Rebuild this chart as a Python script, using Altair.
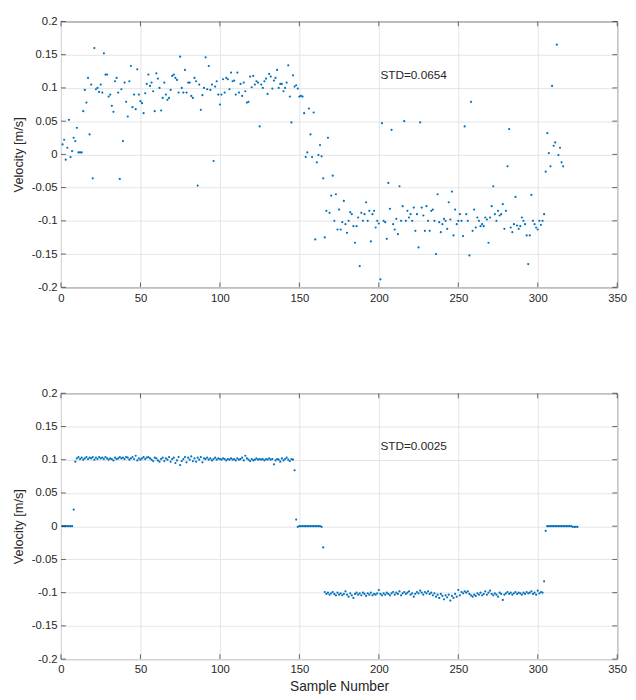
import altair as alt
import pandas as pd

# ---------------- data ----------------
x_ticks = [0, 50, 100, 150, 200, 250, 300, 350]
y_ticks = [-0.2, -0.15, -0.1, -0.05, 0, 0.05, 0.1, 0.15, 0.2]

# Top panel: raw velocity, samples 1..N
raw_start = [0.015, 0.022, -0.008, 0.01, 0.052, -0.004, 0.005, 0.025, 0.02, 0.04,
             0.003, 0.003, 0.003, 0.065, 0.097, 0.078, 0.115, 0.03, 0.105, -0.036, 0.16]
raw_rise = [0.098, 0.1, 0.094, 0.105, 0.093, 0.152, 0.12, 0.12, 0.087, 0.09,
            0.073, 0.064, 0.11, 0.115, 0.093, -0.037, 0.098, 0.02, 0.108, 0.079,
            0.057, 0.11, 0.133, 0.071, 0.09, 0.068, 0.128, 0.09, 0.08, 0.077]
raw_mid = [0.062, 0.092, 0.106, 0.12, 0.103, 0.108, 0.095, 0.065, 0.122, 0.114,
           0.1, 0.066, 0.085, 0.108, 0.09, 0.082, 0.085, 0.097, 0.118, 0.12,
           0.115, 0.112, 0.093, 0.147, 0.1, 0.093, 0.127, 0.093, 0.108, 0.108,
           0.088, 0.085, 0.115, 0.11, -0.047, 0.105, 0.067, 0.089, 0.1, 0.146,
           0.098, 0.133, 0.097, 0.105, -0.01, 0.102, 0.11, 0.09]
raw_late = [0.075, 0.09, 0.113, 0.093, 0.115, 0.113, 0.098, 0.123, 0.11, 0.111,
            0.09, 0.123, 0.093, 0.106, 0.088, 0.108, 0.095, 0.078, 0.079, 0.117,
            0.101, 0.118, 0.105, 0.11, 0.108, 0.042, 0.105, 0.1, 0.11, 0.114,
            0.091, 0.121, 0.117, 0.099, 0.111, 0.115, 0.127, 0.1, 0.106, 0.106,
            0.095, 0.1, 0.108, 0.134, 0.087, 0.048, 0.119, 0.102, 0.104, 0.099]
raw_drop = [0.087, 0.088, 0.087, 0.062, -0.004, 0.003, 0.069, 0.03, -0.004, 0.063,
            -0.128, -0.012, -0.001, 0.014, -0.003, -0.036, -0.125, -0.085, 0.025, -0.088,
            -0.062, -0.032, -0.1, -0.06, -0.113, -0.083]
raw_neg = [-0.113, -0.102, -0.07, -0.105, -0.118, -0.1, -0.087, -0.09, -0.108, -0.133,
           -0.108, -0.095, -0.168, -0.088, -0.1, -0.09, -0.072, -0.1, -0.085, -0.131,
           -0.09, -0.085, -0.11, -0.1, -0.104,
           -0.188, 0.047, -0.1, -0.102, -0.127, -0.043, -0.082, 0.037, -0.105, -0.113,
           -0.097, -0.12, -0.048, -0.1, -0.078, 0.05, -0.1, -0.085, -0.095, -0.09,
           -0.1, -0.08, -0.115, -0.09, -0.14,
           0.048, -0.08, -0.092, -0.115, -0.078, -0.1, -0.115, -0.085, -0.083, -0.1,
           -0.15, -0.06, -0.102, -0.117, -0.105, -0.097, -0.1, -0.112, -0.072, -0.098,
           -0.056, -0.122, -0.083, -0.105, -0.1,
           -0.09, -0.1, -0.123, 0.042, -0.09, -0.1, -0.152, 0.079, -0.115, -0.083,
           -0.11, -0.095, -0.1, -0.108, -0.105, -0.108, -0.095, -0.098, -0.133, -0.095,
           -0.078, -0.048, -0.09, -0.1, -0.085,
           -0.092, -0.09, -0.075, -0.112, -0.085, -0.018, 0.038, -0.11, -0.117, -0.105,
           -0.064, -0.107, -0.112, -0.108, -0.095, -0.1, -0.105, -0.122, -0.165, -0.122,
           -0.061, -0.1, -0.105, -0.11, -0.113, -0.1, -0.106]
raw_end = [-0.1, -0.09, -0.026, 0.032, 0.002, -0.018, 0.103, 0.013, 0.018, 0.165,
           -0.001, 0.01, -0.012, -0.018]

# Bottom panel: filtered velocity
flt_start = [0.0, 0.0, 0.0, 0.0, 0.0, 0.0, 0.0, 0.025]
flt_pos = [0.097, 0.102, 0.104, 0.101, 0.103, 0.100, 0.102, 0.104, 0.101, 0.103,
           0.102, 0.104, 0.100, 0.103, 0.101, 0.104, 0.102, 0.103, 0.101, 0.104,
           0.102, 0.100,
           0.102, 0.101, 0.099, 0.103, 0.101, 0.102, 0.104, 0.102, 0.103, 0.101,
           0.104, 0.103, 0.100, 0.102, 0.104, 0.101, 0.106, 0.099, 0.102, 0.100,
           0.102, 0.104, 0.101, 0.103, 0.104, 0.102, 0.100, 0.098, 0.103, 0.102,
           0.099, 0.097, 0.101, 0.103, 0.098, 0.102, 0.100, 0.104, 0.097, 0.101,
           0.103, 0.095, 0.099, 0.104, 0.092,
           0.098, 0.101, 0.104, 0.096, 0.103, 0.100, 0.105, 0.098, 0.102, 0.097,
           0.103, 0.100, 0.104, 0.096, 0.102, 0.101, 0.103, 0.100, 0.102, 0.099,
           0.101, 0.103, 0.100, 0.102, 0.101,
           0.100, 0.102, 0.101, 0.099, 0.101, 0.100, 0.102, 0.100, 0.101, 0.099,
           0.102, 0.100, 0.101, 0.103, 0.099, 0.106, 0.102, 0.100, 0.098, 0.101,
           0.099, 0.100, 0.102, 0.100, 0.101,
           0.100, 0.101, 0.099, 0.101, 0.100, 0.102, 0.100, 0.101, 0.093, 0.099,
           0.101, 0.100, 0.097, 0.102, 0.099, 0.101, 0.103, 0.100, 0.098, 0.101, 0.100]
flt_stop1 = [0.084, 0.010, -0.001, 0.0, 0.0, 0.0, 0.0, 0.0, 0.0, 0.0, 0.0, 0.0,
             0.0, 0.0, 0.0, 0.0, 0.0, -0.001, -0.032]
flt_neg = [-0.099, -0.102, -0.100, -0.103, -0.101, -0.099, -0.102, -0.104, -0.100, -0.103,
           -0.101, -0.104, -0.102, -0.098, -0.103, -0.106, -0.101, -0.104, -0.108, -0.102,
           -0.100, -0.103, -0.101, -0.104, -0.100,
           -0.102, -0.105, -0.101, -0.103, -0.100, -0.104, -0.102, -0.103, -0.101, -0.096,
           -0.102, -0.104, -0.101, -0.103, -0.100, -0.102, -0.104, -0.101, -0.099, -0.103,
           -0.100, -0.102, -0.098, -0.104, -0.101,
           -0.099, -0.102, -0.100, -0.098, -0.103, -0.101, -0.106, -0.102, -0.099, -0.101,
           -0.097, -0.100, -0.103, -0.099, -0.101, -0.098, -0.102, -0.100, -0.104, -0.101,
           -0.106, -0.103, -0.108, -0.102, -0.105,
           -0.110, -0.104, -0.107, -0.103, -0.112, -0.105, -0.108, -0.102, -0.106, -0.096,
           -0.104, -0.099, -0.101, -0.098, -0.100, -0.098, -0.102, -0.104, -0.106, -0.103,
           -0.105, -0.101, -0.103, -0.100, -0.104,
           -0.102, -0.098, -0.103, -0.100, -0.097, -0.102, -0.104, -0.101, -0.103, -0.106,
           -0.100, -0.102, -0.111, -0.103, -0.101, -0.099, -0.102, -0.100, -0.103, -0.101,
           -0.099, -0.102, -0.100, -0.101, -0.103,
           -0.100, -0.102, -0.099, -0.101, -0.100, -0.098, -0.102, -0.100, -0.103, -0.097,
           -0.101, -0.099, -0.100]
flt_end = [-0.083, -0.007, 0.0, 0.0, 0.0, 0.0, 0.0, 0.0, 0.0, 0.0, 0.0, 0.0,
           0.0, 0.0, 0.0, 0.0, 0.0, 0.0, -0.001, -0.001, -0.001, -0.001]

raw_values = raw_start + raw_rise + raw_mid + raw_late + raw_drop + raw_neg + raw_end
flt_values = flt_start + flt_pos + flt_stop1 + flt_neg + flt_end

std_labels = ["STD=0.0654", "STD=0.0025"]
std_pos = (201, 0.12)  # annotation anchor in data units

# ---------------- styling ----------------
W, H = 567, 271
BLUE = "#0072BD"
DARK = "#262626"
FONT = "Liberation Sans"
TL = 5  # inner tick length


def panel(values, label, x_title):
    df = pd.DataFrame({"x": list(range(1, len(values) + 1)), "y": values})
    xs = alt.Scale(domain=[0, 350], nice=False, zero=False)
    ys = alt.Scale(domain=[-0.2, 0.2], nice=False, zero=False)

    xaxis_kw = dict(values=x_ticks, grid=True, ticks=False, domain=False,
                    labelPadding=5, labelFontSize=11.5, labelColor=DARK,
                    labelFont=FONT, gridColor="#e3e3e3", labelFlush=False)
    if x_title:
        xaxis_kw.update(title=x_title, titleFontSize=14, titleFont=FONT,
                        titleFontWeight="normal", titleColor=DARK, titlePadding=5)
    else:
        xaxis_kw.update(title="")
    xaxis = alt.Axis(**xaxis_kw)

    yaxis = alt.Axis(values=y_ticks, grid=True, ticks=False, domain=False,
                     labelPadding=4, labelFontSize=11.5, labelColor=DARK, labelFont=FONT,
                     gridColor="#e3e3e3", labelExpr="'' + datum.value",
                     title="Velocity [m/s]", titleFontSize=13, titleFont=FONT,
                     titleFontWeight="normal", titleColor=DARK, titlePadding=6,
                     labelFlush=False)

    pts = alt.Chart(df).mark_point(filled=True, size=5, color=BLUE, opacity=1).encode(
        x=alt.X("x:Q", scale=xs, axis=xaxis),
        y=alt.Y("y:Q", scale=ys, axis=yaxis),
    )

    ytdf = pd.DataFrame({"v": y_ticks})
    xtdf = pd.DataFrame({"v": x_ticks})
    tick_style = dict(color=DARK, size=TL, thickness=1)
    left = alt.Chart(ytdf).mark_tick(orient="horizontal", **tick_style).encode(
        y=alt.Y("v:Q", scale=ys, axis=yaxis), x=alt.value(TL / 2))
    right = alt.Chart(ytdf).mark_tick(orient="horizontal", **tick_style).encode(
        y=alt.Y("v:Q", scale=ys, axis=yaxis), x=alt.value(W - TL / 2))
    top = alt.Chart(xtdf).mark_tick(orient="vertical", **tick_style).encode(
        x=alt.X("v:Q", scale=xs, axis=xaxis), y=alt.value(TL / 2))
    bottom = alt.Chart(xtdf).mark_tick(orient="vertical", **tick_style).encode(
        x=alt.X("v:Q", scale=xs, axis=xaxis), y=alt.value(H - TL / 2))

    tdf = pd.DataFrame({"tx": [std_pos[0]], "ty": [std_pos[1]], "t": [label]})
    txt = alt.Chart(tdf).mark_text(align="left", baseline="middle", fontSize=12,
                                   font=FONT, color=DARK).encode(
        x=alt.X("tx:Q", scale=xs, axis=xaxis),
        y=alt.Y("ty:Q", scale=ys, axis=yaxis),
        text="t:N")

    return alt.layer(pts, left, right, top, bottom, txt).properties(width=W, height=H)


chart = alt.vconcat(
    panel(raw_values, std_labels[0], None),
    panel(flt_values, std_labels[1], "Sample Number"),
    spacing=84,
).properties(
    padding={"left": 4, "top": 0, "right": 0, "bottom": 0},
    background="white",
).configure_view(
    stroke=DARK, strokeWidth=1
)

chart.save("out.html", embed_options={"renderer": "svg", "actions": False})
